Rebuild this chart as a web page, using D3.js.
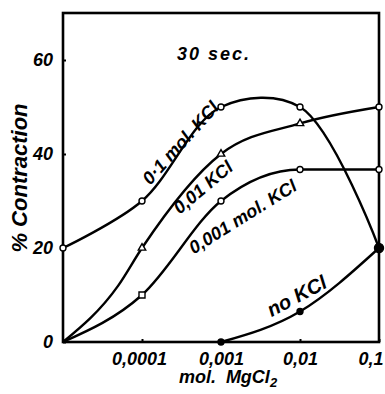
<!DOCTYPE html>
<html>
<head>
<meta charset="utf-8">
<script src="https://cdn.jsdelivr.net/npm/d3@7"></script>
<style>
  body { margin: 0; background: #fff; }
  text { font-family: "Liberation Sans", Arial, sans-serif; font-weight: bold; font-style: italic; fill: #000; }
</style>
</head>
<body>
<svg id="chart" width="385" height="394"></svg>
<script>
// x values are mol MgCl2 (0 is drawn at the 0.00001 position of the log axis)
let xTicks = [0.00001, 0.0001, 0.001, 0.01, 0.1];
let xTickLabels = ['', '0,0001', '0,001', '0,01', '0,1'];
let yTicks = [0, 20, 40, 60];

let kcl01X = [0.00001, 0.0001, 0.001, 0.01, 0.1];
let kcl01Y = [20, 30, 50, 50, 20];
let kcl01Marks = [true, true, true, true, false];

let kcl001X = [0.00001, 0.00005, 0.0001, 0.001, 0.01, 0.1];
let kcl001Y = [0, 12, 20, 40, 46.5, 50];
let kcl001Marks = [false, false, true, true, true, true];

let kcl0001X = [0.00001, 0.0001, 0.001, 0.01, 0.1];
let kcl0001Y = [0, 10, 30, 36.7, 36.7];
let kcl0001Marks = [false, true, true, true, true];

let noKclX = [0.001, 0.01, 0.1];
let noKclY = [0, 6.5, 20];
let noKclMarks = [true, true, true];

let seriesNames = ['0·1 mol. KCl', '0,01 KCl', '0,001 mol. KCl', 'no KCl'];

let d3Svg = d3.select('#chart');
let mLeft = 63, mRight = 379, mTop = 13, mBottom = 342;

let x = d3.scaleLog().domain([0.00001, 0.1]).range([mLeft, mRight]);
let y = d3.scaleLinear().domain([0, 70]).range([mBottom, mTop]);

function pts(xs, ys, ms) {
    return xs.map(function (d, i) { return { x: d, y: ys[i], m: ms[i] }; });
}

// marker shape per series (point index -> shape override)
let series = [
    { data: pts(kcl01X, kcl01Y, kcl01Marks), shape: 'circle', curve: d3.curveCatmullRom.alpha(0.5) },
    { data: pts(kcl001X, kcl001Y, kcl001Marks), shape: 'triangle', last: 'circle', curve: d3.curveMonotoneX },
    { data: pts(kcl0001X, kcl0001Y, kcl0001Marks), shape: 'circle', first: 'square', curve: d3.curveMonotoneX },
    { data: pts(noKclX, noKclY, noKclMarks), shape: 'dot', curve: d3.curveMonotoneX }
];

// frame
d3Svg.append('rect')
    .attr('x', mLeft).attr('y', mTop)
    .attr('width', mRight - mLeft).attr('height', mBottom - mTop)
    .attr('fill', 'none').attr('stroke', '#000').attr('stroke-width', 2.6);

// axes
let xAxis = d3.axisBottom(x).tickValues(xTicks)
    .tickFormat(function (d, i) { return xTickLabels[i]; })
    .tickSize(-3).tickPadding(10);
let yAxis = d3.axisLeft(y).tickValues(yTicks)
    .tickFormat(function (d) { return d; })
    .tickSize(-3).tickPadding(10);

let gx = d3Svg.append('g').attr('transform', 'translate(0,' + mBottom + ')').call(xAxis);
let gy = d3Svg.append('g').attr('transform', 'translate(' + mLeft + ',0)').call(yAxis);
[gx, gy].forEach(function (g) {
    g.select('.domain').remove();
    g.selectAll('.tick line').attr('stroke', '#000').attr('stroke-width', 2);
    g.selectAll('.tick text').attr('font-size', 18).attr('fill', '#000')
        .style('font-family', '"Liberation Sans", Arial, sans-serif');
});
gx.selectAll('.tick text')
    .attr('text-anchor', function (d, i) { return i === xTicks.length - 1 ? 'end' : 'middle'; })
    .attr('dx', function (d, i) { return i === xTicks.length - 1 ? 4 : (i === 1 ? -3 : 0); });

// axis titles
d3Svg.append('text')
    .attr('transform', 'translate(27,178) rotate(-90)')
    .attr('text-anchor', 'middle')
    .attr('font-size', 22)
    .text('% Contraction');

let xl = d3Svg.append('text')
    .attr('x', 228).attr('y', 383)
    .attr('text-anchor', 'middle')
    .attr('font-size', 18)
    .attr('xml:space', 'preserve');
xl.append('tspan').text('mol.  MgCl');
xl.append('tspan').attr('dy', 4).attr('font-size', 13).text('2');

d3Svg.append('text')
    .attr('x', 177).attr('y', 60)
    .attr('font-size', 18)
    .attr('letter-spacing', 2)
    .text('30 sec.');

// curves
series.forEach(function (s) {
    let line = d3.line()
        .x(function (d) { return x(d.x); })
        .y(function (d) { return y(d.y); })
        .curve(s.curve);
    d3Svg.append('path')
        .attr('d', line(s.data))
        .attr('fill', 'none')
        .attr('stroke', '#000')
        .attr('stroke-width', 2.4);
});

// markers
let symTri = d3.symbol().type(d3.symbolTriangle).size(24);
let symSq = d3.symbol().type(d3.symbolSquare).size(36);
series.forEach(function (s) {
    let m = s.data.filter(function (d) { return d.m; });
    m.forEach(function (d, i) {
        let shape = s.shape;
        if (i === 0 && s.first) shape = s.first;
        if (i === m.length - 1 && s.last) shape = s.last;
        let px = x(d.x), py = y(d.y);
        if (shape === 'triangle' || shape === 'square') {
            d3Svg.append('path')
                .attr('d', shape === 'triangle' ? symTri : symSq)
                .attr('transform', 'translate(' + px + ',' + py + ')')
                .attr('fill', '#fff').attr('stroke', '#000').attr('stroke-width', 1.4);
        } else {
            d3Svg.append('circle')
                .attr('cx', px).attr('cy', py)
                .attr('r', shape === 'dot' ? (d.x === 0.1 ? 4.5 : 3) : 3)
                .attr('fill', shape === 'dot' ? '#000' : '#fff')
                .attr('stroke', '#000').attr('stroke-width', 1.4);
        }
    });
});

// curve labels
let labelPos = [
    { cx: 185, cy: 147, a: -48, fs: 18 },
    { cx: 207, cy: 192, a: -40, fs: 18 },
    { cx: 246, cy: 222, a: -32, fs: 18 },
    { cx: 300, cy: 302, a: -28, fs: 20 }
];
seriesNames.forEach(function (n, i) {
    let p = labelPos[i];
    d3Svg.append('text')
        .attr('transform', 'translate(' + p.cx + ',' + p.cy + ') rotate(' + p.a + ')')
        .attr('text-anchor', 'middle')
        .attr('font-size', p.fs)
        .text(n);
});
</script>
</body>
</html>
